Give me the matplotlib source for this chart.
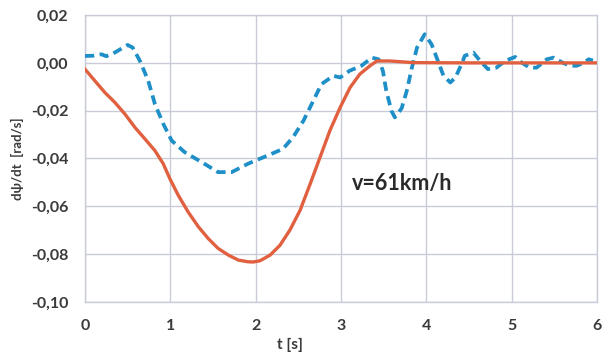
import matplotlib
matplotlib.use("Agg")
import matplotlib.pyplot as plt

# Yaw rate: simulation (solid) and measurement (dashed)
t_sim = [0.0, 0.117, 0.234, 0.35, 0.469, 0.586, 0.703, 0.82, 0.918, 0.996,
         1.094, 1.21, 1.33, 1.445, 1.56, 1.68, 1.797, 1.91, 1.97, 2.05, 2.17,
         2.285, 2.4, 2.52, 2.64, 2.754, 2.87, 2.99, 3.106, 3.22, 3.34, 3.42,
         3.57, 3.85, 4.5, 5.0, 5.5, 6.0]
r_sim = [-0.0026, -0.0075, -0.0124, -0.0165, -0.0214, -0.027, -0.0318,
         -0.0367, -0.0422, -0.0485, -0.0554, -0.0624, -0.0686, -0.0735,
         -0.0776, -0.0804, -0.0825, -0.0832, -0.0833, -0.0828, -0.0804,
         -0.0763, -0.070, -0.0617, -0.0505, -0.0395, -0.0283, -0.0186,
         -0.0103, -0.0047, -0.0012, 0.0008, 0.0008, 0.0001, 0.0, 0.0, 0.0, 0.0]

t_meas = [0.0, 0.1, 0.195, 0.25, 0.33, 0.5, 0.56, 0.645, 0.742, 0.82, 0.918,
          1.016, 1.17, 1.367, 1.56, 1.72, 1.91, 2.09, 2.32, 2.44, 2.56, 2.676,
          2.77, 2.91, 2.99, 3.1, 3.24, 3.36, 3.44, 3.49, 3.53, 3.59, 3.63,
          3.71, 3.77, 3.83, 3.89, 3.98, 4.06, 4.12, 4.2, 4.28, 4.34, 4.41,
          4.45, 4.55, 4.63, 4.72, 4.82, 4.92, 5.04, 5.12, 5.21, 5.29, 5.41,
          5.49, 5.6, 5.68, 5.76, 5.84, 5.9, 5.95]
r_meas = [0.0029, 0.003, 0.0036, 0.0028, 0.0039, 0.0075, 0.0064, 0.0008,
          -0.0075, -0.0172, -0.0255, -0.0325, -0.0374, -0.0415, -0.0457,
          -0.0457, -0.0422, -0.0395, -0.036, -0.031, -0.0242, -0.0158,
          -0.0089, -0.0054, -0.0061, -0.0033, -0.0012, 0.0022, 0.0015,
          -0.0033, -0.0117, -0.02, -0.0228, -0.019, -0.0117, -0.002, 0.0064,
          0.012, 0.0078, 0.0022, -0.0054, -0.0082, -0.0061, -0.0006, 0.003,
          0.0043, 0.0008, -0.0026, -0.002, 0.0008, 0.0025, 0.0, -0.002,
          -0.002, 0.0015, 0.0022, 0.0, -0.0012, -0.0012, 0.0, 0.0015, 0.001]

x_ticks = [0, 1, 2, 3, 4, 5, 6]
y_ticks = [0.02, 0.0, -0.02, -0.04, -0.06, -0.08, -0.10]
y_tick_labels = ["0,02", "0,00", "-0,02", "-0,04", "-0,06", "-0,08", "-0,10"]

text_color = "#3a3a3a"
grid_color = "#c9ccd8"
font = ["Lato", "DejaVu Sans"]

fig = plt.figure(figsize=(6.02, 3.59), dpi=100)
ax = fig.add_axes([0.141, 0.159, 0.851, 0.799])

ax.plot(t_meas, r_meas, color="#1f8fc8", lw=2.7, ls=(0, (2.5, 1.45)),
        dash_capstyle="butt", dash_joinstyle="round", zorder=3)
ax.plot(t_sim, r_sim, color="#e0603f", lw=2.4, solid_joinstyle="round",
        zorder=4)

ax.set_xlim(0, 6)
ax.set_ylim(-0.10, 0.02)
ax.set_xticks(x_ticks)
ax.set_yticks(y_ticks)
ax.set_yticklabels(y_tick_labels)
ax.grid(True, color=grid_color, lw=1.0)
ax.set_axisbelow(True)
for s in ax.spines.values():
    s.set_color(grid_color)
    s.set_linewidth(1.0)
ax.tick_params(length=0, pad=12, labelcolor=text_color)
for lab in ax.get_xticklabels() + ax.get_yticklabels():
    lab.set_fontfamily(font)
    lab.set_fontweight("bold")
    lab.set_fontsize(11.5)

ax.set_xlabel("t [s]", family=font, fontweight="bold", fontsize=11,
              color=text_color)
ax.xaxis.set_label_coords(0.40, -0.125)
ax.set_ylabel("dψ/dt  [rad/s]", family=font, fontweight="bold", fontsize=9.5,
              color=text_color)
ax.yaxis.set_label_coords(-0.118, 0.5)

ax.text(3.13, -0.0504, "v=61km/h", family=font, fontweight="bold",
        fontsize=15.5, color="#2a2a2a", va="center", ha="left")

fig.savefig("out.png", dpi=100)
